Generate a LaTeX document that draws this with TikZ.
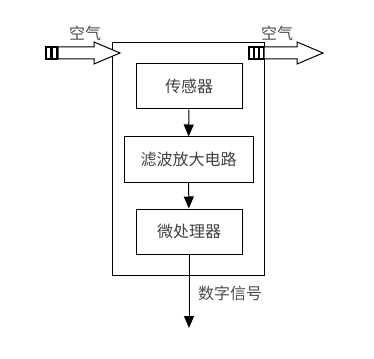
\documentclass[tikz,border=0pt]{standalone}
\usepackage{fontspec}
\newfontfamily\cjk{Noto Sans CJK SC}
\usetikzlibrary{arrows.meta}
\begin{document}
\begin{tikzpicture}[x=1pt,y=-1pt,
  box/.style={draw=black,line width=1pt,minimum height=45pt,inner sep=0pt,font=\cjk\fontsize{16}{16}\selectfont,text=black!75},
  lbl/.style={font=\cjk\fontsize{16}{16}\selectfont,text=black!70,inner sep=0pt},
  flow/.style={draw=black,line width=1pt,-{Triangle[length=12pt,width=10pt]}},
  blk/.style={draw=black,line width=1pt,fill=white}]
\useasboundingbox (0,0) rectangle (374,358);
\node[draw=black,line width=1pt,minimum width=152pt,minimum height=232pt,inner sep=0pt] (outer) at (188,159) {};
\node[box,minimum width=106pt] (sensor) at (189,86.5) {传感器};
\node[box,minimum width=129pt] (filter) at (188.5,159.5) {滤波放大电路};
\node[box,minimum width=106pt] (micro) at (189,231.5) {微处理器};
\coordinate (out) at (189,328);
\draw[flow] (sensor) -- (filter);
\draw[flow] (filter) -- (micro);
\draw[flow] (micro) -- (out);
\node[lbl,anchor=west] (sig) at (198,293) {数字信号};
% left air arrow
\draw[blk,line width=1.4pt] (46,47) rectangle (51,59);
\draw[blk,line width=1.4pt] (52,47) rectangle (57,59);
\draw[blk] (58,47) -- (94,47) -- (94,42) -- (120,53) -- (94,64) -- (94,59) -- (58,59) -- cycle;
\node[lbl] (airin) at (85,33) {空气};
% right air arrow
\draw[blk,line width=1.4pt] (249,47) rectangle (254,59);
\draw[blk,line width=1.4pt] (254.5,47) rectangle (259,59);
\draw[blk,line width=1.4pt] (259.5,47) rectangle (264,59);
\draw[blk] (264,47) -- (297,47) -- (297,42) -- (323,53) -- (297,64) -- (297,59) -- (264,59) -- cycle;
\node[lbl] (airout) at (277,33) {空气};
\end{tikzpicture}
\end{document}
